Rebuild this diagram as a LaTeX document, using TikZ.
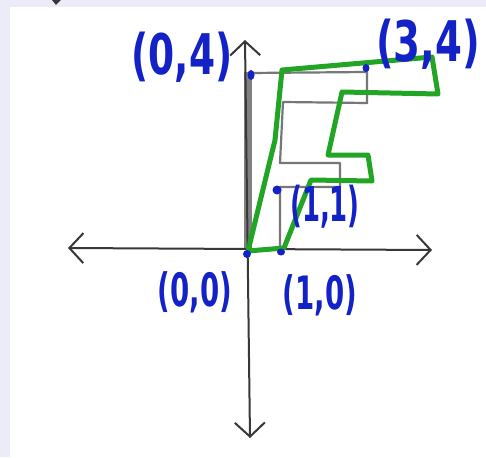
\documentclass[tikz,border=0pt]{standalone}
\usepackage{fontspec}
\setmainfont{DejaVu Sans}
\usetikzlibrary{arrows.meta}
\definecolor{inkblue}{HTML}{1222C6}
\definecolor{inkgreen}{HTML}{22A524}
\definecolor{pencil}{HTML}{383838}
\definecolor{faint}{HTML}{777777}
\definecolor{stemgray}{HTML}{808080}
\definecolor{framecol}{HTML}{ECECF8}
\tikzset{
  barb/.tip={Straight Barb[length=14pt,width=30pt,line width=2pt]},
  axisline/.style={draw=pencil,line width=2pt,barb-barb},
  faintline/.style={draw=faint,line width=2.2pt,line join=round},
  shapeline/.style={draw=inkgreen,line width=5pt,line join=round,line cap=round},
  inkdot/.style={fill=inkblue,draw=none},
  biglabel/.style={text=inkblue,font=\bfseries\fontsize{56}{56}\selectfont,inner sep=0pt,xscale=0.67},
  smalllabel/.style={text=inkblue,font=\bfseries\fontsize{46}{46}\selectfont,inner sep=0pt,xscale=0.6}
}
\begin{document}
\begin{tikzpicture}[x=1pt,y=-1pt]
\useasboundingbox (0,0) rectangle (486,457);
\fill[framecol] (0,0) rectangle (486,457);
\fill[white] (10,7) rectangle (486,457);
\fill[pencil] (52,0) -- (61,0) -- (56,5) -- cycle;
% original figure (pencil)
\draw[stemgray,line width=8pt] (248,72) -- (248,250);
\draw[faintline] (250,73) -- (367,72) -- (367,103) -- (283,102) -- (280,163) -- (340,163) -- (340,187) -- (280,187) -- (280,250);
% axes
\coordinate (L) at (68,248);
\coordinate (R) at (432,250);
\coordinate (T) at (245,40);
\coordinate (B) at (250,438);
\draw[axisline] (L) -- (R);
\draw[axisline] (B) -- (T);
% transformed figure
\draw[shapeline] (248,251) -- (284,248) -- (311,180) -- (372,181) -- (368,155) -- (328,155) -- (342,92) -- (438,94) -- (432,57) -- (282,70) -- (275,140) -- cycle;
% points
\fill[inkdot] (251,75) ellipse (3.5pt and 5pt);
\fill[inkdot] (366,68) ellipse (3.5pt and 4pt);
\fill[inkdot] (277,190) ellipse (4.5pt and 4.5pt);
\fill[inkdot] (247,254) ellipse (4pt and 4pt);
\fill[inkdot] (281,252) ellipse (4pt and 3.5pt);
% labels
\node[biglabel] (p04) at (182,57) {(0,4)};
\node[biglabel,xscale=1.03] (p34) at (428,44) {(3,4)};
\node[smalllabel,font=\bfseries\fontsize{48}{48}\selectfont,xscale=0.9] (p11) at (325,207) {(1,1)};
\node[smalllabel] (p00) at (195,292) {(0,0)};
\node[smalllabel] (p10) at (320,295) {(1,0)};
\end{tikzpicture}
\end{document}
